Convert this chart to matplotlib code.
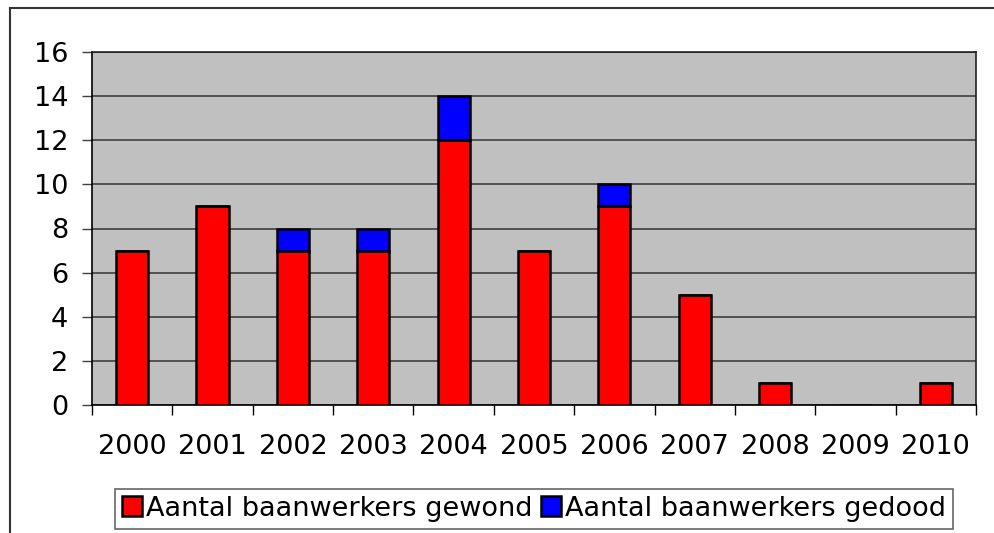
import matplotlib
matplotlib.use("Agg")
import matplotlib.pyplot as plt
from matplotlib.lines import Line2D
from matplotlib.patches import Patch
import numpy as np

years = ["2000", "2001", "2002", "2003", "2004", "2005", "2006", "2007", "2008", "2009", "2010"]
gewond = [7, 9, 7, 7, 12, 7, 9, 5, 1, 0, 1]
gedood = [0, 0, 1, 1, 2, 0, 1, 0, 0, 0, 0]
label_gewond = "Aantal baanwerkers gewond"
label_gedood = "Aantal baanwerkers gedood"
yticks = [0, 2, 4, 6, 8, 10, 12, 14, 16]

W, H = 995, 533
fig = plt.figure(figsize=(W / 100, H / 100), dpi=100)
fig.patch.set_facecolor("white")

l, r, t, b = 92, 976, 52, 405
ax = fig.add_axes([l / W, 1 - b / H, (r - l) / W, (b - t) / H])
ax.set_facecolor("#C0C0C0")

x = np.arange(len(years))
fs = 19.5
ax.bar(x, gewond, width=0.4, color="#FF0000", edgecolor="black", linewidth=1.8, zorder=3)
ax.bar(x, gedood, width=0.4, bottom=gewond, color="#0000FF", edgecolor="black", linewidth=1.8, zorder=3)

ax.set_xlim(-0.5, len(years) - 0.5)
ax.set_ylim(0, 16)
ax.set_yticks(yticks)
ax.set_yticklabels([str(v) for v in yticks], fontsize=fs)
ax.yaxis.grid(True, color="#404040", linewidth=1.2, zorder=1)
ax.set_axisbelow(True)

ax.set_xticks(x)
ax.set_xticklabels(years, fontsize=fs)
ax.set_xticks(np.arange(-0.5, len(years)), minor=True)
ax.tick_params(axis="x", which="major", length=0, pad=21)
ax.tick_params(axis="x", which="minor", length=7, width=1, color="black", direction="out")
ax.tick_params(axis="y", length=7, width=1, color="#404040", direction="out", pad=10)

for s in ["left", "bottom"]:
    ax.spines[s].set_color("black")
    ax.spines[s].set_linewidth(1.2)
for s in ["top", "right"]:
    ax.spines[s].set_color("#202020")
    ax.spines[s].set_linewidth(1.2)

handles = [Patch(facecolor="#FF0000", edgecolor="black", linewidth=1.8, label=label_gewond),
           Patch(facecolor="#0000FF", edgecolor="black", linewidth=1.8, label=label_gedood)]
leg = fig.legend(handles=handles, loc="upper center", bbox_to_anchor=(534 / W, 1 - 489 / H),
                 ncol=2, fontsize=fs, frameon=True, fancybox=False, handlelength=0.75,
                 handleheight=0.75, handletextpad=0.15, columnspacing=0.3, borderpad=0.25,
                 borderaxespad=0)
leg.get_frame().set_edgecolor("#404040")
leg.get_frame().set_linewidth(1.2)

fig.add_artist(Line2D([10 / W, 10 / W], [0, 1 - 8 / H], color="#333333", linewidth=1.5, transform=fig.transFigure))
fig.add_artist(Line2D([10 / W, 1], [1 - 8 / H, 1 - 8 / H], color="#333333", linewidth=1.5, transform=fig.transFigure))

fig.savefig("out.png", dpi=100)
